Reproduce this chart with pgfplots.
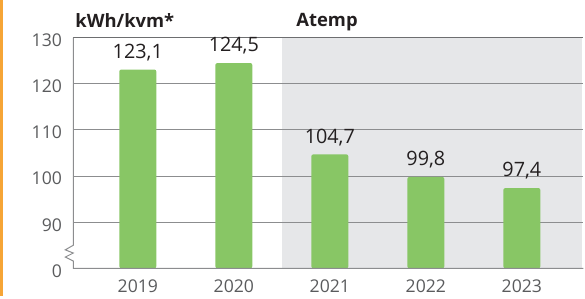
\documentclass[border=0pt]{standalone}
\usepackage{pgfplots}
\pgfplotsset{compat=1.18}
\usepackage{pgfplotstable}
\usepackage{fontspec}
\setmainfont{Open Sans}
\definecolor{bargreen}{HTML}{88C665}
\definecolor{bggray}{HTML}{E6E7E9}
\definecolor{gridgray}{HTML}{8C8D8F}
\definecolor{topgray}{HTML}{6D6E70}
\definecolor{ticktext}{HTML}{5A5B5D}
\definecolor{valtext}{HTML}{231F20}
\definecolor{edgeorange}{HTML}{F6A536}

\pgfplotstableread{
x v lab
0 123.1 123,1
1 124.5 124,5
2 104.7 104,7
3 99.8 99,8
4 97.4 97,4
}\datatable

\begin{document}
\begin{tikzpicture}
\fill[edgeorange] (0,1.5pt) rectangle (1.5pt,149.5pt);
\begin{axis}[
  set layers,
  scale only axis,
  width=255pt, height=115.3pt,
  at={(36.65pt,15.35pt)}, anchor=south west,
  xmin=-0.672, xmax=4.64,
  ymin=0, ymax=50,
  axis line style={draw=none},
  clip=false,
  xtick={0,1,2,3,4},
  xticklabels={2019,2020,2021,2022,2023},
  ytick={0,10,20,30,40},
  yticklabels={0,90,100,110,120},
  extra y ticks={50},
  extra y tick labels={130},
  extra y tick style={grid=none},
  major tick length=0pt,
  ymajorgrids,
  grid style={gridgray, line width=0.5pt},
  tick label style={font=\fontsize{8.8}{10}\selectfont, text=ticktext, inner sep=0pt},
  xticklabel style={anchor=north, yshift=-5.3pt},
  yticklabel style={anchor=east, xshift=-5.5pt, yshift=-1.3pt},
  /pgf/number format/assume math mode=true,
]
\begin{pgfonlayer}{axis background}
\fill[bggray] (axis cs:1.5,0) rectangle (axis cs:4.625,50);
\end{pgfonlayer}
\addplot[ybar, bar width=18.5pt, bar shift=0pt, fill=bargreen, draw=none, rounded corners=1pt,
  point meta=explicit symbolic,
  nodes near coords,
  nodes near coords style={font=\fontsize{9.9}{11}\selectfont, text=valtext, inner sep=0pt, anchor=south, yshift=4.2pt},
] table[x=x, y expr=\thisrow{v}-80, meta=lab] {\datatable};
\draw[topgray, line width=0.75pt] (axis cs:-0.672,50) -- (axis cs:4.64,50);
\draw[gridgray, line width=0.5pt] (axis cs:-0.672,50) -- (axis cs:-0.672,5)
  -- ++(-4pt,-2.3pt) -- ++(4pt,-1.6pt) -- ++(-4pt,-2pt) -- ++(4pt,-2pt)
  |- (axis cs:4.64,0);
\end{axis}
\node[anchor=base west, inner sep=0pt, font=\fontsize{9.2}{10}\selectfont\bfseries, text=valtext] at (37.5pt,135.9pt) {kWh/kvm*};
\node[anchor=base west, inner sep=0pt, font=\fontsize{9.2}{10}\selectfont\bfseries, text=valtext] at (148pt,136pt) {Atemp};
\pgfresetboundingbox
\path[use as bounding box] (0,0) rectangle (292.5pt,149.5pt);
\end{tikzpicture}
\end{document}
